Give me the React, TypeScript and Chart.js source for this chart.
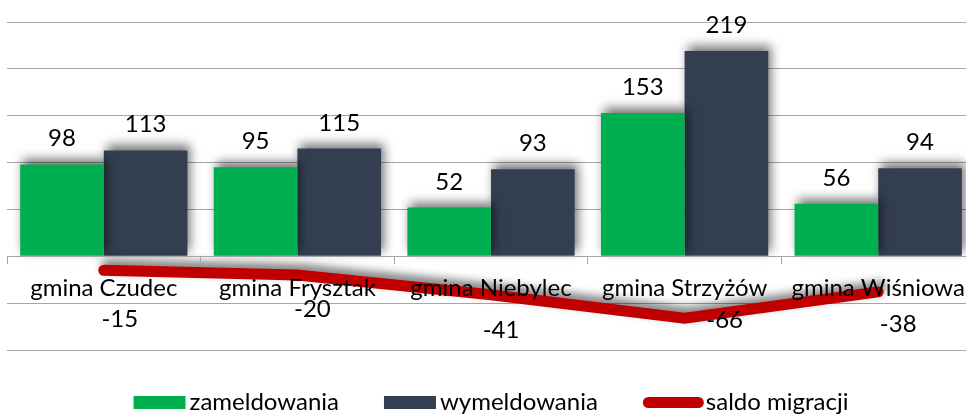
import React, { useEffect, useRef } from 'react';
import { Chart, registerables } from 'chart.js';

Chart.register(...registerables);

const categories = ['gmina Czudec', 'gmina Frysztak', 'gmina Niebylec', 'gmina Strzyżów', 'gmina Wiśniowa'];
const zameldowania = [98, 95, 52, 153, 56];
const wymeldowania = [113, 115, 93, 219, 94];
const saldo = [-15, -20, -41, -66, -38];
const seriesNames = ['zameldowania', 'wymeldowania', 'saldo migracji'];

// manual nudges of the saldo labels (dx, dy from the point), as placed in the original
const saldoLabelNudge = [[16, 57], [15, 42], [10, 43], [40, 10], [20, 40]];

const GREEN = '#00B050';
const DARK = '#333F50';
const RED = '#C00000';
const GRID = '#A6A6A6';
const FONT_FAMILY = 'Lato';
const FONT_SIZE = 24;

const shadowPlugin = {
  id: 'shadowPlugin',
  beforeDatasetDraw(chart: any) {
    const ctx = chart.ctx;
    ctx.save();
    ctx.shadowColor = 'rgba(0,0,0,0.55)';
    ctx.shadowBlur = 10;
    ctx.shadowOffsetX = 3;
    ctx.shadowOffsetY = -5;
  },
  afterDatasetDraw(chart: any) {
    chart.ctx.restore();
  },
};

const labelsPlugin = {
  id: 'labelsPlugin',
  afterDraw(chart: any) {
    const ctx = chart.ctx;
    ctx.save();
    ctx.font = `${FONT_SIZE}px ${FONT_FAMILY}`;
    ctx.fillStyle = '#000';
    ctx.textAlign = 'center';
    ctx.textBaseline = 'alphabetic';
    [0, 1].forEach((di) => {
      const meta = chart.getDatasetMeta(di);
      meta.data.forEach((bar: any, i: number) => {
        const v = chart.data.datasets[di].data[i];
        ctx.fillText(String(v), bar.x, bar.y - 18);
      });
    });
    const lm = chart.getDatasetMeta(2);
    lm.data.forEach((pt: any, i: number) => {
      const v = chart.data.datasets[2].data[i];
      const [dx, dy] = saldoLabelNudge[i];
      ctx.fillText(String(v), pt.x + dx, pt.y + dy);
    });

    // legend
    const boxW = 52;
    const boxH = 13;
    const gapText = 4;
    const gapItem = 45;
    const widths = seriesNames.map((n) => ctx.measureText(n).width);
    const total = widths.reduce((a, b) => a + b, 0) + 3 * (boxW + gapText) + 7 + 2 * gapItem;
    let x = 491 - total / 2;
    const cy = 402.5;
    ctx.textAlign = 'left';
    seriesNames.forEach((name, i) => {
      if (i < 2) {
        ctx.fillStyle = i === 0 ? GREEN : DARK;
        ctx.fillRect(x, cy - boxH / 2, boxW, boxH);
      } else {
        ctx.strokeStyle = RED;
        ctx.lineWidth = 11;
        ctx.lineCap = 'round';
        ctx.beginPath();
        ctx.moveTo(x + 5.5, cy);
        ctx.lineTo(x + boxW + 9 - 5.5, cy);
        ctx.stroke();
      }
      ctx.fillStyle = '#000';
      const tx = x + boxW + gapText + (i === 2 ? 7 : 0);
      ctx.fillText(name, tx, 410);
      x = tx + widths[i] + gapItem;
    });
    ctx.restore();
  },
};

export default function App() {
  const ref = useRef<HTMLCanvasElement | null>(null);
  useEffect(() => {
    if (!ref.current) return;
    const chart = new Chart(ref.current, {
      type: 'bar',
      data: {
        labels: categories,
        datasets: [
          {
            type: 'bar',
            label: seriesNames[0],
            data: zameldowania,
            backgroundColor: GREEN,
            barPercentage: 1,
            categoryPercentage: 0.864,
            order: 1,
          },
          {
            type: 'bar',
            label: seriesNames[1],
            data: wymeldowania,
            backgroundColor: DARK,
            barPercentage: 1,
            categoryPercentage: 0.864,
            order: 1,
          },
          {
            type: 'line',
            label: seriesNames[2],
            data: saldo,
            borderColor: RED,
            backgroundColor: RED,
            borderWidth: 11,
            borderCapStyle: 'round',
            borderJoinStyle: 'miter',
            pointRadius: 0,
            tension: 0,
            fill: false,
            order: 0,
          },
        ] as any,
      },
      options: {
        animation: false,
        responsive: true,
        maintainAspectRatio: false,
        layout: { padding: { left: 7, right: 0, top: 22, bottom: 65 } },
        plugins: { legend: { display: false }, tooltip: { enabled: false } },
        scales: {
          x: {
            position: { y: 0 } as any,
            offset: true,
            grid: {
              offset: true,
              drawOnChartArea: false,
              drawTicks: true,
              tickLength: 7,
              color: GRID,
              z: 1,
            },
            border: { display: true, color: GRID, width: 1, z: 1 },
            ticks: {
              color: '#000',
              font: { family: FONT_FAMILY, size: FONT_SIZE },
              padding: 11,
              maxRotation: 0,
              autoSkip: false,
              z: 1,
            },
          },
          y: {
            min: -100,
            max: 250,
            ticks: { display: false, stepSize: 50 },
            grid: { color: GRID, drawTicks: false, lineWidth: 1 },
            border: { display: false },
            afterFit: (s: any) => {
              s.width = 0;
            },
          },
        },
      },
      plugins: [shadowPlugin, labelsPlugin],
    });
    return () => chart.destroy();
  }, []);
  return (
    <div style={{ position: 'fixed', left: 0, top: 0, width: 966, height: 415, background: '#fff', overflow: 'hidden' }}>
      <div style={{ position: 'absolute', left: 0, top: 0, width: 976, height: 415 }}>
        <canvas ref={ref} />
      </div>
    </div>
  );
}
